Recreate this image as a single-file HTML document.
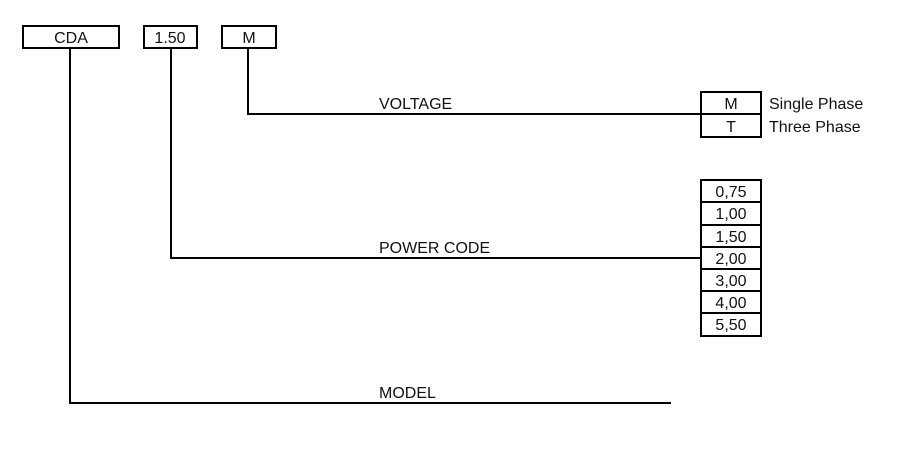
<!DOCTYPE html>
<html><head><style>
body{margin:0;background:#fff}
svg text{font-family:"Liberation Sans",Arial,sans-serif;font-size:16px;fill:#111}
</style></head><body>
<svg width="917" height="448" viewBox="0 0 917 448" xmlns="http://www.w3.org/2000/svg">
<g fill="none" stroke="#000" stroke-width="2">
<rect x="23" y="26" width="96" height="22"/>
<rect x="144" y="26" width="53" height="22"/>
<rect x="222" y="26" width="54" height="22"/>
<polyline points="70,48 70,403 671,403"/>
<polyline points="171,48 171,258 701,258"/>
<polyline points="248,48 248,114 701,114"/>
<rect x="701" y="92" width="60" height="45"/>
<line x1="701" y1="114" x2="761" y2="114"/>
<rect x="701" y="180" width="60" height="156"/>
<line x1="701" y1="202" x2="761" y2="202"/>
<line x1="701" y1="225" x2="761" y2="225"/>
<line x1="701" y1="247" x2="761" y2="247"/>
<line x1="701" y1="269" x2="761" y2="269"/>
<line x1="701" y1="291" x2="761" y2="291"/>
<line x1="701" y1="313" x2="761" y2="313"/>
</g>
<g text-anchor="middle">
<text x="71" y="43">CDA</text>
<text x="170" y="43">1.50</text>
<text x="249" y="43">M</text>
<text x="731" y="109">M</text>
<text x="731" y="132">T</text>
<text x="731" y="197">0,75</text>
<text x="731" y="219">1,00</text>
<text x="731" y="242">1,50</text>
<text x="731" y="264">2,00</text>
<text x="731" y="286">3,00</text>
<text x="731" y="308">4,00</text>
<text x="731" y="330">5,50</text>
</g>
<text x="769" y="109">Single Phase</text>
<text x="769" y="132">Three Phase</text>
<text x="379" y="109">VOLTAGE</text>
<text x="379" y="253">POWER CODE</text>
<text x="379" y="398">MODEL</text>
</svg>
</body></html>
